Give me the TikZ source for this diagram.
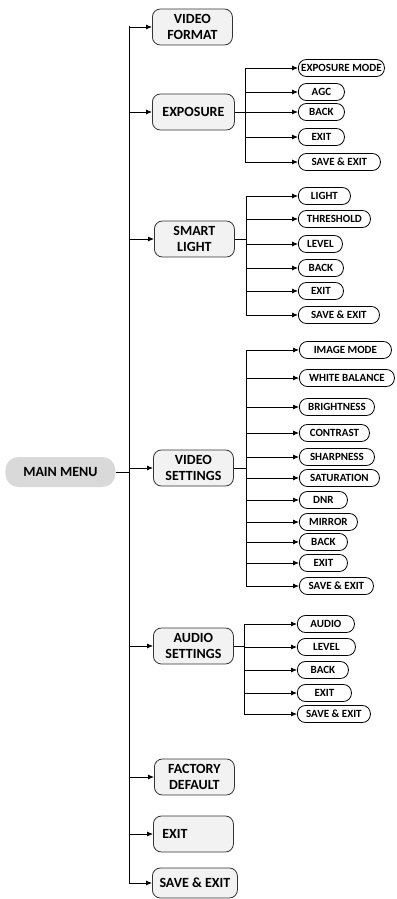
\documentclass[tikz,border=0pt]{standalone}
\usepackage{fontspec}
\setmainfont{Carlito}
\usetikzlibrary{arrows.meta}

\begin{document}
\begin{tikzpicture}[
        x=1pt, y=-1pt, line width=0.8, font=\bfseries,
        arr/.style={-{Latex[length=6,width=5]}},
        menu/.style={draw=black!80, fill=black!5, rounded corners=8, anchor=west,
            minimum width=80, minimum height=36, align=center, inner sep=2,
            font=\fontsize{14}{15.5}\selectfont\bfseries},
        item/.style={draw, fill=white, rounded corners=8, anchor=west,
            minimum height=17, inner sep=1, font=\fontsize{11}{12}\selectfont\bfseries}
    ]
    \useasboundingbox (0,0) rectangle (396,899);

    % main menu
    \node[fill=black!15, rounded corners=13, anchor=west, minimum width=110,
        minimum height=30, font=\fontsize{14}{15.5}\selectfont\bfseries]
        (main) at (5,472) {MAIN MENU};

    % first level
    \coordinate (top) at (129,26);
    \draw (main.east) -- (main.east -| top);

    \node[menu] (vf)  at (152,27)  {VIDEO\\FORMAT};
    \node[menu, minimum width=82] (exp) at (152,112) {EXPOSURE};
    \node[menu] (sl)  at (154,239) {SMART\\LIGHT};
    \node[menu] (vs)  at (153,468) {VIDEO\\SETTINGS};
    \node[menu] (as)  at (153,646) {AUDIO\\SETTINGS};
    \node[menu] (fd)  at (154,777) {FACTORY\\DEFAULT};
    \node[menu, text width=62, align=left, inner xsep=9] (ex) at (153,834) {EXIT};
    \node[menu, minimum width=85, minimum height=30] (se) at (152,883) {SAVE \& EXIT};

    \foreach \n in {vf,exp,sl,vs,as,fd,ex,se}
        \draw[arr] (top) |- (\n.west);

    % exposure
    \coordinate (expTop) at (245,68);
    \draw (exp.east) -- (exp.east -| expTop);
    \foreach \y/\w/\t [count=\k] in {68/86/EXPOSURE MODE, 92/46/AGC, 112/46/BACK,
            137/46/EXIT, 162/82/SAVE \& EXIT}{
        \node[item, minimum width=\w] (exp\k) at (298,\y) {\t};
        \draw[arr] (expTop) |- (exp\k.west);
    }

    % smart light
    \coordinate (slTop) at (246,196);
    \draw (sl.east) -- (sl.east -| slTop);
    \foreach \y/\w/\t [count=\k] in {196/52/LIGHT, 219/72/THRESHOLD, 244/44/LEVEL,
            268/45/BACK, 291/45/EXIT, 315/81/SAVE \& EXIT}{
        \node[item, minimum width=\w] (sl\k) at (298,\y) {\t};
        \draw[arr] (slTop) |- (sl\k.west);
    }

    % video settings
    \coordinate (vsTop) at (246,350);
    \draw (vs.east) -- (vs.east -| vsTop);
    \foreach \y/\w/\t [count=\k] in {350/92/IMAGE MODE, 378/95/WHITE BALANCE,
            407/75/BRIGHTNESS, 433/70/CONTRAST, 457/75/SHARPNESS, 478/80/SATURATION,
            500/48/DNR, 522/58/MIRROR, 542/48/BACK, 563/48/EXIT, 586/74/SAVE \& EXIT}{
        \node[item, minimum width=\w] (vs\k) at (299,\y) {\t};
        \draw[arr] (vsTop) |- (vs\k.west);
    }

    % audio settings
    \coordinate (asTop) at (244,624);
    \draw (as.east) -- (as.east -| asTop);
    \foreach \y/\w/\t [count=\k] in {624/57/AUDIO, 647/58/LEVEL, 670/51/BACK,
            693/54/EXIT, 714/73/SAVE \& EXIT}{
        \node[item, minimum width=\w] (as\k) at (297,\y) {\t};
        \draw[arr] (asTop) |- (as\k.west);
    }

\end{tikzpicture}
\end{document}
